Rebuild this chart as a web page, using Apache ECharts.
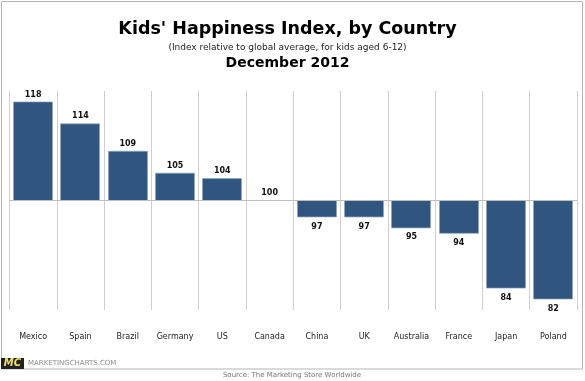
<!DOCTYPE html>
<html><head><meta charset="utf-8">
<style>html,body{margin:0;padding:0;background:#fff}#c{width:585px;height:381px}</style>
<script src="https://cdn.jsdelivr.net/npm/echarts@6/dist/echarts.min.js"></script>
</head><body><div id="c"></div>
<script>
const categories=['Mexico','Spain','Brazil','Germany','US','Canada','China','UK','Australia','France','Japan','Poland'];
const values=[118,114,109,105,104,100,97,97,95,94,84,82];
const baseline=100;
const titleText="Kids' Happiness Index, by Country";
const subtitleText="(Index relative to global average, for kids aged 6-12)";
const dateText="December 2012";
const sourceText="Source: The Marketing Store Worldwide";
const FONT='"DejaVu Sans"';
const chart=echarts.init(document.getElementById('c'),null,{renderer:'canvas'});
function renderBar(params,api){
 const i=api.value(0), v=api.value(1);
 const top=api.coord([i,v]), base=api.coord([i,baseline]);
 const w=40, up=v>=baseline;
 const children=[];
 if(v!==baseline){
  children.push({type:'rect',shape:{x:Math.round(top[0]-w/2)+0.5,y:Math.min(top[1],base[1]),width:w-1,height:Math.abs(top[1]-base[1])},
   style:{fill:'#30557f',stroke:'#8fa5bd',lineWidth:0.7}});
 }
 children.push({type:'text',x:top[0],y:up?top[1]-7.5:top[1]+9.5,
  style:{text:String(v),font:'bold 8px '+FONT,fill:'#111',align:'center',verticalAlign:'middle'}});
 return {type:'group',children};
}
chart.setOption({
 animation:false,
 backgroundColor:'#fff',
 grid:{left:9.5,right:8,top:91,bottom:71,containLabel:false},
 xAxis:{type:'category',data:categories,
  axisLine:{show:false},axisTick:{show:false},
  axisLabel:{interval:0,margin:22.5,fontFamily:FONT,fontSize:8,color:'#222'},
  splitLine:{show:true,interval:0,lineStyle:{color:'#cfcfcf',width:1}}},
 yAxis:{type:'value',min:80,max:120,interval:20,axisLine:{show:false},axisTick:{show:false},axisLabel:{show:false},splitLine:{show:false}},
 series:[{type:'custom',clip:false,encode:{x:0,y:1},data:values.map((v,i)=>[i,v]),renderItem:renderBar,
  markLine:{silent:true,symbol:'none',label:{show:false},lineStyle:{color:'#bdbdbd',width:1,type:'solid'},data:[{yAxis:baseline}]}
 }],
 graphic:[
  {type:'rect',silent:true,z:-1,shape:{x:1.5,y:1.5,width:581,height:367.5},style:{fill:'none',stroke:'#b5b5b5',lineWidth:1}},
  {type:'text',x:287.5,y:29.5,style:{text:titleText,font:'bold 17.5px '+FONT,fill:'#000',align:'center',verticalAlign:'middle'}},
  {type:'text',x:287.5,y:48,style:{text:subtitleText,font:'9px '+FONT,fill:'#222',align:'center',verticalAlign:'middle'}},
  {type:'text',x:287.5,y:63,style:{text:dateText,font:'bold 14px '+FONT,fill:'#000',align:'center',verticalAlign:'middle'}},
  {type:'rect',shape:{x:1,y:358,width:23,height:11},style:{fill:'#222'}},
  {type:'text',x:12.5,y:363.5,style:{text:'MC',font:'italic bold 10px '+FONT,fill:'#f2e36b',align:'center',verticalAlign:'middle'}},
  {type:'text',x:28,y:363.5,style:{text:'MARKETINGCHARTS.COM',font:'7px '+FONT,fill:'#8c8c8c',align:'left',verticalAlign:'middle'}},
  {type:'text',x:292,y:375,style:{text:sourceText,font:'7px '+FONT,fill:'#777',align:'center',verticalAlign:'middle'}}
 ]
});
</script></body></html>
